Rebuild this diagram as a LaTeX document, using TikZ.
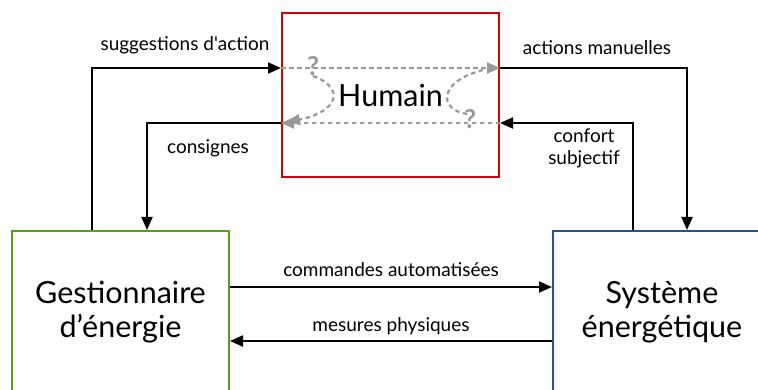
\documentclass[tikz,border=0pt]{standalone}
\usepackage{fontspec}
\setmainfont{Lato}
\usetikzlibrary{arrows.meta}
\definecolor{rouge}{RGB}{214,0,0}
\definecolor{vert}{RGB}{90,160,20}
\definecolor{bleu}{RGB}{40,80,150}
\begin{document}
\begin{tikzpicture}[x=1pt,y=-1pt]
\tikzset{bloc/.style={rectangle,draw,line width=2pt,minimum width=217pt,align=center,font=\fontsize{30.5}{34}\selectfont}}
\tikzset{fl/.style={line width=2pt,-{Triangle[length=13pt,width=11pt]}}}
\tikzset{fl1/.style={gray!80,dash pattern=on 4.5pt off 3.5pt,line width=2.2pt,-{Triangle[length=13pt,width=11pt]}}}
\tikzset{lbl/.style={font=\fontsize{19}{22}\selectfont,align=center,inner sep=0pt}}

  \clip (0,0) rectangle (758,390);

  \node[bloc,rouge,minimum height=164pt,text=black] (hum) at (390.5,95) {Humain};
  \node[bloc,vert,minimum height=162pt,text=black] (gest) at (120.5,312) {Gestionnaire\\d’énergie};
  \node[bloc,bleu,minimum width=218pt,minimum height=162pt,text=black] (sys) at (662,312) {Système\\énergétique};

  % liens humain
  \draw[fl] ([xshift=81pt]gest.north west) |- ([yshift=27pt]hum.west);
  \draw[fl] ([yshift=-28pt]hum.west) -| ([xshift=136pt]gest.north west);
  \draw[fl] ([yshift=27pt]hum.east) -| ([xshift=135pt]sys.north west);
  \draw[fl] ([xshift=81pt]sys.north west) |- ([yshift=-28pt]hum.east);
  % liens automatiques
  \draw[fl] ([yshift=25pt]gest.east) -- ([yshift=25pt]sys.west);
  \draw[fl] ([yshift=-29pt]sys.west) -- ([yshift=-29pt]gest.east);

  \node[lbl] (l1) at (185,45) {suggestions d\textquotesingle action};
  \node[lbl] (l2) at (208,148) {consignes};
  \node[lbl] (l3) at (597,48) {actions manuelles};
  \node[lbl] (l4) at (584,148) {confort\\subjectif};
  \node[lbl] (l5) at (391,270) {commandes automatisées};
  \node[lbl] (l6) at (391,326) {mesures physiques};

  % dans la tete
  \draw[fl1] ([yshift=27pt]hum.west) -- ([yshift=27pt]hum.east);
  \draw[fl1] ([yshift=-28pt]hum.east) -- ([yshift=-28pt]hum.west);
  \draw[fl1] (313,76) .. controls (346,88) and (338,112) .. (287,122);
  \draw[fl1,-] (483,70) .. controls (437,82) and (439,110) .. (467,114);
  \node[lbl,gray!80,font=\fontsize{26}{28}\selectfont\bfseries] (q1) at (313,66) {?};
  \node[lbl,gray!80,font=\fontsize{26}{28}\selectfont\bfseries] (q2) at (470,119) {?};

\end{tikzpicture}
\end{document}
